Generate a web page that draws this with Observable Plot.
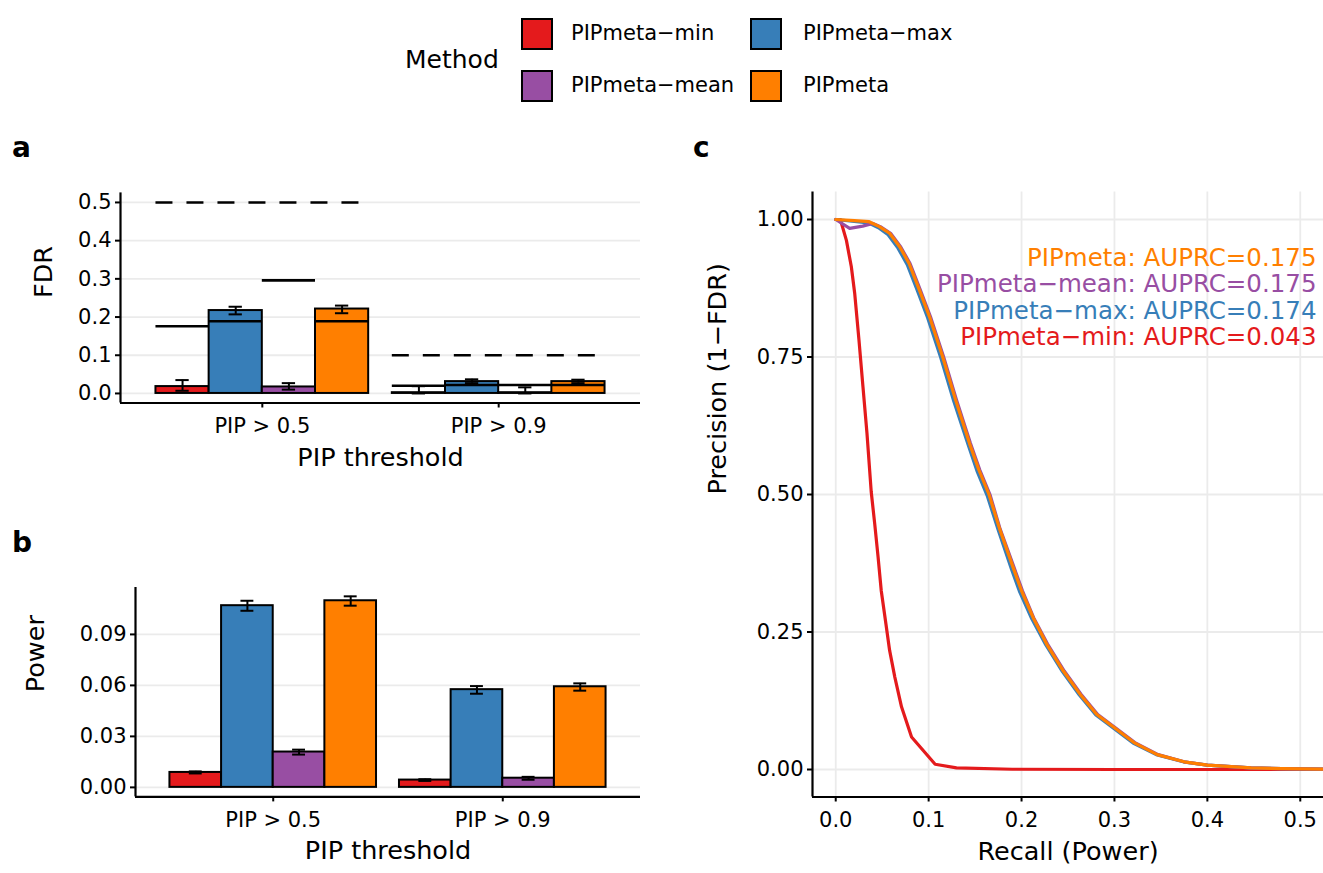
<!DOCTYPE html>
<html>
<head>
<meta charset="utf-8">
<script src="https://cdn.jsdelivr.net/npm/d3@7"></script>
<script src="https://cdn.jsdelivr.net/npm/@observablehq/plot@0.6"></script>
<style>
  html, body { margin: 0; padding: 0; background: #ffffff; }
  #fig { position: relative; width: 1323px; height: 873px; overflow: hidden; font-family: "DejaVu Sans", sans-serif; color: #000; }
  .panel { position: absolute; }
  .panel svg { display: block; }
  .letter { position: absolute; font-weight: bold; font-size: 28px; line-height: 28px; }
  .leg-title { position: absolute; font-size: 25px; line-height: 30px; }
  .leg-key { position: absolute; width: 28px; height: 28px; border: 2px solid #000; }
  .leg-label { position: absolute; font-size: 21px; line-height: 30px; white-space: nowrap; }
</style>
</head>
<body>
<div id="fig"></div>
<script>
// ---------------- data ----------------
const methods = ["PIPmeta-min", "PIPmeta-max", "PIPmeta-mean", "PIPmeta"];
const methodLabels = ["PIPmeta\u2212min", "PIPmeta\u2212max", "PIPmeta\u2212mean", "PIPmeta"];
const methodColors = ["#E41A1C", "#377EB8", "#984EA3", "#FF7F00"];
const thresholds = ["PIP > 0.5", "PIP > 0.9"];
const targetFDR = [0.5, 0.1];

// panel a: FDR, one inner array per threshold, one value per method
const fdrMean     = [[0.018, 0.217, 0.017, 0.221], [0.002, 0.031, 0.002, 0.031]];
const fdrLow      = [[0.007, 0.207, 0.010, 0.210], [0.000, 0.027, 0.000, 0.027]];
const fdrHigh     = [[0.035, 0.227, 0.027, 0.230], [0.019, 0.037, 0.016, 0.036]];
const fdrExpected = [[0.176, 0.189, 0.296, 0.189], [0.020, 0.022, 0.022, 0.022]];
const fdrTicks = [0, 0.1, 0.2, 0.3, 0.4, 0.5];

// panel b: power
const powerMean = [[0.0088, 0.1069, 0.0208, 0.1098], [0.0043, 0.0575, 0.0054, 0.0592]];
const powerLow  = [[0.0082, 0.1039, 0.0193, 0.1069], [0.0038, 0.0551, 0.0045, 0.0569]];
const powerHigh = [[0.0094, 0.1098, 0.0222, 0.1124], [0.0048, 0.0596, 0.0062, 0.0612]];
const powerTicks = [0, 0.03, 0.06, 0.09];

// panel c: precision-recall curves
const recallMin    = [0, 0.005, 0.0115, 0.0168, 0.0204, 0.025, 0.0293, 0.0336, 0.0382, 0.042, 0.0456, 0.049, 0.054, 0.058, 0.0636, 0.0708, 0.0816, 0.107, 0.130, 0.19, 0.3, 0.4, 0.525];
const precisionMin = [1.0, 1.0, 0.962, 0.914, 0.866, 0.781, 0.696, 0.612, 0.505, 0.446, 0.386, 0.325, 0.265, 0.2165, 0.168, 0.114, 0.059, 0.0096, 0.003, 0.0005, 0, 0, 0];

const recallMax    = [0, 0.035, 0.046, 0.056, 0.067, 0.077, 0.088, 0.099, 0.113, 0.127, 0.142, 0.152, 0.163, 0.175, 0.189, 0.198, 0.211, 0.226, 0.244, 0.262, 0.280, 0.299, 0.320, 0.345, 0.374, 0.400, 0.447, 0.480, 0.525];
const precisionMax = [1.0, 0.994, 0.985, 0.973, 0.948, 0.918, 0.870, 0.821, 0.749, 0.670, 0.593, 0.543, 0.498, 0.435, 0.365, 0.323, 0.274, 0.227, 0.178, 0.136, 0.099, 0.075, 0.048, 0.027, 0.014, 0.008, 0.003, 0.0015, 0.0005];

const recallMean    = [0, 0.015, 0.029, 0.040, 0.048, 0.059, 0.070, 0.080, 0.091, 0.102, 0.116, 0.130, 0.145, 0.155, 0.166, 0.177, 0.192, 0.201, 0.213, 0.228, 0.246, 0.264, 0.282, 0.301, 0.322, 0.347, 0.375, 0.400, 0.447, 0.480, 0.525];
const precisionMean = [1.0, 0.984, 0.988, 0.993, 0.987, 0.975, 0.950, 0.920, 0.872, 0.823, 0.751, 0.672, 0.593, 0.545, 0.500, 0.437, 0.367, 0.325, 0.276, 0.228, 0.179, 0.137, 0.100, 0.076, 0.049, 0.027, 0.014, 0.008, 0.003, 0.0015, 0.0005];

const recallMeta    = [0, 0.020, 0.036, 0.047, 0.058, 0.069, 0.079, 0.090, 0.101, 0.115, 0.129, 0.144, 0.154, 0.165, 0.1765, 0.191, 0.200, 0.2125, 0.227, 0.245, 0.263, 0.281, 0.300, 0.321, 0.346, 0.375, 0.400, 0.447, 0.480, 0.525];
const precisionMeta = [1.0, 0.998, 0.996, 0.987, 0.975, 0.950, 0.920, 0.872, 0.823, 0.751, 0.672, 0.593, 0.545, 0.500, 0.437, 0.367, 0.325, 0.276, 0.228, 0.179, 0.137, 0.100, 0.076, 0.049, 0.027, 0.014, 0.008, 0.003, 0.0015, 0.0005];

const auprc = [0.043, 0.174, 0.175, 0.175];
const annotationOrder = [3, 2, 1, 0]; // PIPmeta, mean, max, min
const recallTicks = [0, 0.1, 0.2, 0.3, 0.4, 0.5];
const precisionTicks = [0, 0.25, 0.5, 0.75, 1];

// ---------------- helpers ----------------
const FONT = "DejaVu Sans";
const fig = document.getElementById("fig");
const colorScale = {domain: methods, range: methodColors};

function addPanel(node, left, top, width) {
  const div = document.createElement("div");
  div.className = "panel";
  div.style.left = left + "px";
  div.style.top = top + "px";
  div.style.width = width + "px";
  div.appendChild(node);
  fig.appendChild(div);
}
function addText(cls, text, left, top) {
  const d = document.createElement("div");
  d.className = cls;
  d.textContent = text;
  d.style.left = left + "px";
  d.style.top = top + "px";
  fig.appendChild(d);
  return d;
}

// ggplot-like dodge: groups at 0,1; bars width 0.9 split among methods
function barTable(mean, low, high, expected) {
  const rows = [];
  const w = 0.9 / methods.length;
  thresholds.forEach((t, g) => {
    methods.forEach((m, i) => {
      const x1 = g - 0.45 + w * i;
      rows.push({threshold: t, method: m, x1, x2: x1 + w, xc: x1 + w / 2,
        value: mean[g][i], lo: low[g][i], hi: high[g][i],
        expected: expected ? expected[g][i] : null});
    });
  });
  return rows;
}

function barPanel({rows, ticks, tickFormat, yDomain, width, height, marginLeft, marginTop, marginBottom, yLabel, yLabelDx, extra}) {
  const xDomain = [-0.6, 1.6];
  const cap = 0.225 * 0.125;
  return Plot.plot({
    width, height, marginLeft, marginRight: 20, marginTop, marginBottom,
    style: {fontFamily: FONT, color: "#000", background: "transparent", overflow: "visible"},
    x: {domain: xDomain, axis: null},
    y: {domain: yDomain, axis: null},
    color: colorScale,
    marks: [
      Plot.ruleY(ticks, {stroke: "#ebebeb", strokeWidth: 1.8}),
      Plot.rect(rows, {x1: "x1", x2: "x2", y1: 0, y2: "value", fill: "method", stroke: "#000", strokeWidth: 2}),
      Plot.ruleX(rows, {x: "xc", y1: "lo", y2: "hi", stroke: "#000", strokeWidth: 2}),
      Plot.ruleY(rows, {y: "lo", x1: d => d.xc - cap, x2: d => d.xc + cap, stroke: "#000", strokeWidth: 2}),
      Plot.ruleY(rows, {y: "hi", x1: d => d.xc - cap, x2: d => d.xc + cap, stroke: "#000", strokeWidth: 2}),
      ...(extra || []),
      Plot.ruleX([xDomain[0]], {stroke: "#000", strokeWidth: 2.2}),
      Plot.ruleY([yDomain[0]], {stroke: "#000", strokeWidth: 2.2}),
      Plot.axisY({ticks, tickFormat, tickSize: 5, tickPadding: 4, fontSize: 21, label: null, strokeWidth: 2}),
      Plot.axisX({ticks: [0, 1], tickFormat: i => thresholds[i], tickSize: 5, tickPadding: 10, fontSize: 21, label: null, strokeWidth: 2}),
      Plot.text(["PIP threshold"], {text: d => d, frameAnchor: "bottom", dy: 62.5, fontSize: 25.5}),
      Plot.text([yLabel], {text: d => d, frameAnchor: "left", dx: yLabelDx, rotate: -90, fontSize: 25.5})
    ]
  });
}

// ---------------- panel a ----------------
const rowsA = barTable(fdrMean, fdrLow, fdrHigh, fdrExpected);
const targetRows = thresholds.map((t, g) => ({g, target: targetFDR[g]}));
const plotA = barPanel({
  rows: rowsA, ticks: fdrTicks, tickFormat: d3.format(".1f"),
  yDomain: [-0.025, 0.525], width: 660, height: 310,
  marginLeft: 120, marginTop: 12.4, marginBottom: 87.5,
  yLabel: "FDR", yLabelDx: -77,
  extra: [
    Plot.ruleY(rowsA, {y: "expected", x1: "x1", x2: "x2", stroke: "#000", strokeWidth: 2.6}),
    Plot.ruleY(targetRows, {y: "target", x1: d => d.g - 0.45, x2: d => d.g + 0.45, stroke: "#000", strokeWidth: 2.6, strokeDasharray: "17,14"})
  ]
});
addPanel(plotA, 0, 180, 660);

// ---------------- panel b ----------------
const rowsB = barTable(powerMean, powerLow, powerHigh, null);
const plotB = barPanel({
  rows: rowsB, ticks: powerTicks, tickFormat: d3.format(".2f"),
  yDomain: [-0.0056, 0.1176], width: 660, height: 298,
  marginLeft: 135, marginTop: 12, marginBottom: 76.6,
  yLabel: "Power", yLabelDx: -100
});
addPanel(plotB, 0, 575, 660);

// ---------------- panel c ----------------
const curveSets = [
  [recallMin, precisionMin],
  [recallMax, precisionMax],
  [recallMean, precisionMean],
  [recallMeta, precisionMeta]
];
const curveRows = [];
curveSets.forEach(([rx, py], i) => rx.forEach((r, k) => curveRows.push({method: methods[i], recall: r, precision: py[k]})));

const annMarks = annotationOrder.map((i, k) => Plot.text([{method: methods[i], label: `${methodLabels[i]}: AUPRC=${auprc[i].toFixed(3)}`}], {
  text: "label", fill: "method", frameAnchor: "top-right", textAnchor: "end",
  dx: -7, dy: 56.5 + k * 26.4, fontSize: 24.5
}));

const xDomC = [-0.025, 0.525], yDomC = [-0.05, 1.05];
const plotC = Plot.plot({
  width: 643, height: 693, marginLeft: 132, marginRight: 0, marginTop: 11.5, marginBottom: 76.5,
  style: {fontFamily: FONT, color: "#000", background: "transparent", overflow: "visible"},
  x: {domain: xDomC, axis: null},
  y: {domain: yDomC, axis: null},
  color: colorScale,
  marks: [
    Plot.ruleX(recallTicks, {stroke: "#ebebeb", strokeWidth: 1.8}),
    Plot.ruleY(precisionTicks, {stroke: "#ebebeb", strokeWidth: 1.8}),
    Plot.line(curveRows, {x: "recall", y: "precision", z: "method", stroke: "method", strokeWidth: 3.2, strokeLinejoin: "round"}),
    ...annMarks,
    Plot.ruleX([xDomC[0]], {stroke: "#000", strokeWidth: 2.2}),
    Plot.ruleY([yDomC[0]], {stroke: "#000", strokeWidth: 2.2}),
    Plot.axisY({ticks: precisionTicks, tickFormat: d3.format(".2f"), tickSize: 5, tickPadding: 4, fontSize: 21, label: null, strokeWidth: 2}),
    Plot.axisX({ticks: recallTicks, tickFormat: d3.format(".1f"), tickSize: 5, tickPadding: 10, fontSize: 21, label: null, strokeWidth: 2}),
    Plot.text(["Recall (Power)"], {text: d => d, frameAnchor: "bottom", dy: 62.5, fontSize: 25.5}),
    Plot.text(["Precision (1\u2212FDR)"], {text: d => d, frameAnchor: "left", dx: -95, rotate: -90, fontSize: 25.5})
  ]
});
addPanel(plotC, 680, 180, 643);

// ---------------- letters ----------------
addText("letter", "a", 12, 134);
addText("letter", "b", 12, 529);
addText("letter", "c", 693, 134);

// ---------------- legend ----------------
addText("leg-title", "Method", 405, 45);
const legCols = [521, 750], legRows = [18, 70], legLabelCols = [571, 803];
methods.forEach((m, i) => {
  const col = i % 2, row = Math.floor(i / 2);
  const key = document.createElement("div");
  key.className = "leg-key";
  key.style.left = legCols[col] + "px";
  key.style.top = legRows[row] + "px";
  key.style.background = methodColors[i];
  fig.appendChild(key);
  addText("leg-label", methodLabels[i], legLabelCols[col], legRows[row]);
});
</script>
</body>
</html>
